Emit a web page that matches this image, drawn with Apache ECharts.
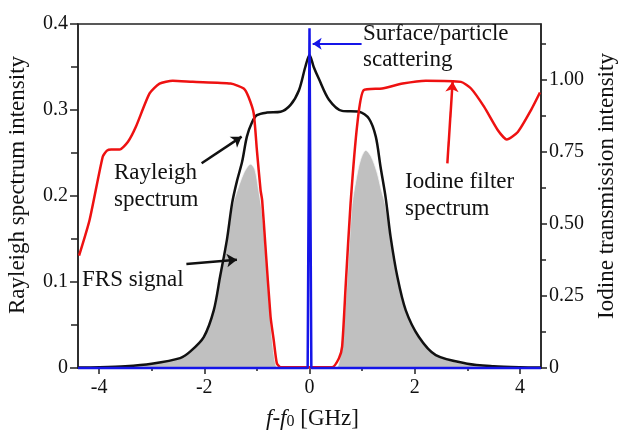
<!DOCTYPE html>
<html>
<head>
<meta charset="utf-8">
<script src="https://cdn.jsdelivr.net/npm/echarts@6/dist/echarts.min.js"></script>
<style>
  html, body { margin: 0; padding: 0; background: #fff; }
  #chart { width: 620px; height: 436px; }
</style>
</head>
<body>
<div id="chart"></div>
<script>
// frequency offset [GHz] and values
const rayleighX = [-4.4, -4.0, -3.5, -3.0, -2.46, -2.27, -2.01, -1.82, -1.7, -1.57, -1.47, -1.38, -1.28, -1.19, -1.09, -1.0, -0.81, -0.55, -0.36, -0.2, -0.08, 0, 0.08, 0.18, 0.37, 0.62, 0.94, 1.13, 1.26, 1.35, 1.45, 1.54, 1.67, 1.83, 2.08, 2.4, 3.0, 3.5, 4.0, 4.4]
const rayleighY = [0.0005, 0.0008, 0.002, 0.005, 0.0115, 0.019, 0.036, 0.067, 0.106, 0.149, 0.192, 0.217, 0.240, 0.269, 0.286, 0.294, 0.297, 0.298, 0.306, 0.323, 0.350, 0.364, 0.350, 0.336, 0.312, 0.299, 0.298, 0.290, 0.269, 0.234, 0.197, 0.153, 0.106, 0.067, 0.036, 0.015, 0.005, 0.002, 0.0008, 0.0005]

const iodineX = [-4.38, -4.18, -3.93, -3.85, -3.77, -3.61, -3.45, -3.3, -3.04, -2.85, -2.6, -2.22, -1.5, -1.25, -1.16, -1.06, -1.0, -0.93, -0.9, -0.84, -0.74, -0.68, -0.62, -0.55, 0.43, 0.56, 0.62, 0.69, 0.78, 0.91, 1.03, 1.38, 1.77, 2.21, 2.88, 3.07, 3.32, 3.58, 3.75, 3.96, 4.21, 4.38]
const iodineY = [0.39, 0.514, 0.734, 0.755, 0.759, 0.759, 0.786, 0.838, 0.954, 0.988, 0.998, 0.994, 0.988, 0.971, 0.942, 0.884, 0.757, 0.618, 0.583, 0.43, 0.178, 0.097, 0.016, 0.003, 0.003, 0.034, 0.074, 0.294, 0.57, 0.85, 0.965, 0.971, 0.988, 0.998, 0.994, 0.971, 0.907, 0.826, 0.794, 0.82, 0.896, 0.957]

const frsX = [-4.4, -3.5, -3.0, -2.46, -2.27, -2.01, -1.82, -1.7, -1.57, -1.47, -1.38, -1.3, -1.22, -1.12, -1.04, -0.97, -0.9, -0.84, -0.77, -0.71, -0.65, -0.6, 0.5, 0.56, 0.62, 0.69, 0.75, 0.81, 0.88, 0.97, 1.07, 1.17, 1.28, 1.36, 1.44, 1.54, 1.67, 1.83, 2.08, 2.4, 3.0, 3.5, 4.4]
const frsY = [0.0005, 0.002, 0.005, 0.0115, 0.019, 0.036, 0.066, 0.104, 0.146, 0.187, 0.205, 0.219, 0.23, 0.237, 0.231, 0.208, 0.18, 0.137, 0.079, 0.033, 0.006, 0, 0, 0.006, 0.033, 0.079, 0.137, 0.19, 0.217, 0.242, 0.253, 0.246, 0.228, 0.208, 0.19, 0.15, 0.104, 0.066, 0.035, 0.015, 0.004, 0.0015, 0.0005]

const scatterX = [-4.4, -0.035, 0, 0.035, 4.4]
const scatterY = [0, 0, 0.395, 0, 0]

// tick labels
const xTicks = [-4, -2, 0, 2, 4]
const xMinorTicks = [-3, -1, 1, 3]
const rightTicks = [0, 0.25, 0.5, 0.75, 1.0]
const rightMinorTicks = [0.125, 0.375, 0.625, 0.875, 1.125]

const FONT = 'Liberation Serif'
const zip = (xs, ys) => xs.map((x, i) => [x, ys[i]])

const chart = echarts.init(document.getElementById('chart'))

const axisLine = { show: true, onZero: false, lineStyle: { color: '#222', width: 1.5 } }
const noLine = { show: false, onZero: false }
const tickStyle = { color: '#222', width: 1.5 }
const labelStyle = { fontFamily: FONT, fontSize: 20, color: '#111' }
const noteFont = '23px "Liberation Serif"'

const option = {
  animation: false,
  grid: {
    left: 78, right: 79, top: 24, bottom: 68,
    outerBoundsMode: 'none',
    show: true, borderColor: '#222', borderWidth: 1.5
  },
  xAxis: [
    {
      type: 'value', min: -4.4, max: 4.4, position: 'bottom',
      name: '{i|f}-{i|f}{s|0} [GHz]',
      nameLocation: 'middle', nameGap: 39,
      nameTextStyle: {
        fontFamily: FONT, fontSize: 23, color: '#111', padding: [0, 0, 0, 6],
        rich: {
          i: { fontFamily: FONT, fontSize: 23, fontStyle: 'italic', color: '#111' },
          s: { fontFamily: FONT, fontSize: 16, color: '#111', verticalAlign: 'bottom', lineHeight: 12 }
        }
      },
      axisLine: axisLine,
      axisTick: { show: true, length: 6, customValues: xTicks, lineStyle: tickStyle },
      axisLabel: { ...labelStyle, margin: 10, customValues: xTicks },
      splitLine: { show: false }
    },
    {
      type: 'value', min: -4.4, max: 4.4, position: 'bottom',
      axisLine: noLine,
      axisTick: { show: true, length: 3, customValues: xMinorTicks, lineStyle: tickStyle },
      axisLabel: { show: false },
      splitLine: { show: false }
    }
  ],
  yAxis: [
    {
      type: 'value', min: 0, max: 0.4, interval: 0.1, position: 'left',
      name: 'Rayleigh spectrum intensity',
      nameLocation: 'middle', nameGap: 49, nameRotate: 90,
      nameTextStyle: { fontFamily: FONT, fontSize: 23, color: '#111', padding: [0, 0, 0, 22] },
      axisLine: axisLine,
      axisTick: { show: true, length: 8, lineStyle: tickStyle },
      minorTick: { show: true, splitNumber: 2, length: 7, lineStyle: tickStyle },
      axisLabel: { ...labelStyle, margin: 10, formatter: v => (v === 0 ? '0' : v.toFixed(1)) },
      splitLine: { show: false }
    },
    {
      type: 'value', min: 0, max: 1.195, position: 'right',
      name: 'Iodine transmission intensity',
      nameLocation: 'middle', nameGap: 54, nameRotate: 90,
      nameTextStyle: { fontFamily: FONT, fontSize: 23, color: '#111', padding: [0, 0, 0, 20] },
      axisLine: axisLine,
      axisTick: { show: true, length: 6, customValues: rightTicks, lineStyle: tickStyle },
      axisLabel: { ...labelStyle, margin: 8, customValues: rightTicks, formatter: v => (v === 0 ? '0' : v.toFixed(2)) },
      splitLine: { show: false }
    },
    {
      type: 'value', min: 0, max: 1.195, position: 'right',
      axisLine: noLine,
      axisTick: { show: true, length: 5, customValues: rightMinorTicks, lineStyle: tickStyle },
      axisLabel: { show: false },
      splitLine: { show: false }
    }
  ],
  series: [
    {
      name: 'FRS signal', type: 'line', data: zip(frsX, frsY),
      symbol: 'none', smooth: 0.3, clip: false, z: 1,
      lineStyle: { width: 0.8, color: '#f4f4f4' },
      areaStyle: { color: '#c0c0c0', opacity: 1 }
    },
    {
      name: 'Rayleigh spectrum', type: 'line', data: zip(rayleighX, rayleighY),
      symbol: 'none', smooth: 0.3, clip: false, z: 3,
      lineStyle: { width: 2.5, color: '#111' },
      markLine: {
        silent: true, symbol: ['none', 'arrow'], symbolSize: 10,
        label: { show: false },
        lineStyle: { type: 'solid', color: '#111', width: 2.5 },
        data: [
          [{ coord: [-2.05, 0.238] }, { coord: [-1.29, 0.269] }],
          [{ coord: [-2.34, 0.121] }, { coord: [-1.38, 0.126] }]
        ]
      }
    },
    {
      name: 'Iodine filter spectrum', type: 'line', yAxisIndex: 1, data: zip(iodineX, iodineY),
      symbol: 'none', smooth: 0.2, clip: false, z: 4,
      lineStyle: { width: 2.5, color: '#ee1111' },
      markLine: {
        silent: true, symbol: ['none', 'arrow'], symbolSize: 10,
        label: { show: false },
        lineStyle: { type: 'solid', color: '#ee1111', width: 2.5 },
        data: [
          [{ coord: [2.62, 0.711] }, { coord: [2.72, 0.994] }]
        ]
      }
    },
    {
      name: 'Surface/particle scattering', type: 'line', data: zip(scatterX, scatterY),
      symbol: 'none', clip: false, z: 5,
      lineStyle: { width: 2.5, color: '#1515e8' },
      markLine: {
        silent: true, symbol: ['none', 'arrow'], symbolSize: 9,
        label: { show: false },
        lineStyle: { type: 'solid', color: '#1515e8', width: 2 },
        data: [
          [{ coord: [0.99, 0.377] }, { coord: [0.06, 0.377] }]
        ]
      }
    }
  ],
  graphic: [
    { type: 'text', x: 363, y: 21, style: { text: 'Surface/particle\nscattering', font: noteFont, fill: '#111', lineHeight: 26, verticalAlign: 'top' } },
    { type: 'text', x: 114, y: 159, style: { text: 'Rayleigh\nspectrum', font: noteFont, fill: '#111', lineHeight: 27, verticalAlign: 'top' } },
    { type: 'text', x: 82, y: 267, style: { text: 'FRS signal', font: noteFont, fill: '#111', lineHeight: 26, verticalAlign: 'top' } },
    { type: 'text', x: 405, y: 168, style: { text: 'Iodine filter\nspectrum', font: noteFont, fill: '#111', lineHeight: 27, verticalAlign: 'top' } }
  ]
}

chart.setOption(option)
</script>
</body>
</html>
